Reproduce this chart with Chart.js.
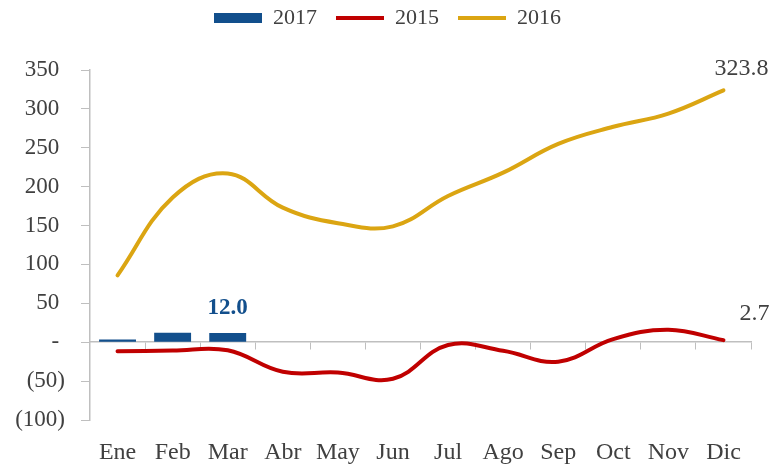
<!DOCTYPE html>
<html>
<head>
<meta charset="utf-8">
<script src="https://cdn.jsdelivr.net/npm/chart.js@4"></script>
<style>
  html, body { margin: 0; padding: 0; background: #fff; }
  #wrap { width: 775px; height: 469px; }
</style>
</head>
<body>
<div id="wrap"><canvas id="grafico"></canvas></div>
<script>
// Datos del gráfico
const meses = ['Ene', 'Feb', 'Mar', 'Abr', 'May', 'Jun', 'Jul', 'Ago', 'Sep', 'Oct', 'Nov', 'Dic'];
const datos2017 = [3.5, 12.1, 12.0];
const datos2015 = [-11.7, -10.8, -10.4, -38, -39, -47, -3.5, -11, -25, 4, 16, 2.7];
const datos2016 = [86, 186, 217, 173, 153, 149, 188, 218, 255, 277, 294, 323.8];
const ticksY = [-100, -50, 0, 50, 100, 150, 200, 250, 300, 350];

const AZUL = '#124f8c';
const ROJO = '#c00000';
const ORO = '#dba512';
const GRIS = '#bfbfbf';
const TEXTO = '#404040';
const FUENTE = "'Liberation Serif', 'DejaVu Serif', serif";

// 👉 Formato contable: (50), -, 350
function formatoY(v) {
  if (v === 0) return '- ';
  if (v < 0) return '(' + (-v) + ')';
  return v + ' ';
}

// 👉 Leyenda más alta para bajar el área del gráfico
const altoLeyenda = {
  id: 'altoLeyenda',
  beforeInit(chart) {
    const fitOriginal = chart.legend.fit;
    chart.legend.fit = function () {
      fitOriginal.call(this);
      this.height = 82;
    };
  }
};

// 👉 Etiquetas de valor (12.0, 2.7, 323.8)
const etiquetas = {
  id: 'etiquetas',
  afterDatasetsDraw(chart) {
    const ctx = chart.ctx;
    ctx.save();
    ctx.textAlign = 'center';
    ctx.textBaseline = 'middle';

    const barras = chart.getDatasetMeta(0).data;
    const iBar = datos2017.length - 1;
    ctx.font = 'bold 23px ' + FUENTE;
    ctx.fillStyle = AZUL;
    ctx.fillText(datos2017[iBar].toFixed(1), barras[iBar].x, barras[iBar].y - 25);

    ctx.font = '24px ' + FUENTE;
    ctx.fillStyle = TEXTO;
    const l15 = chart.getDatasetMeta(1).data;
    const p15 = l15[l15.length - 1];
    ctx.fillText(datos2015[datos2015.length - 1].toFixed(1), p15.x + 31, p15.y - 26);

    const l16 = chart.getDatasetMeta(2).data;
    const p16 = l16[l16.length - 1];
    ctx.fillText(datos2016[datos2016.length - 1].toFixed(1), p16.x + 18, p16.y - 22);
    ctx.restore();
  }
};

new Chart(document.getElementById('grafico'), {
  type: 'bar',
  data: {
    labels: meses,
    datasets: [
      {
        label: '2017',
        data: datos2017,
        backgroundColor: AZUL,
        barPercentage: 0.67,
        categoryPercentage: 1,
        pointStyle: 'rect',
        order: 3
      },
      {
        type: 'line',
        label: '2015',
        data: datos2015,
        borderColor: ROJO,
        backgroundColor: ROJO,
        borderWidth: 4,
        tension: 0.4,
        pointRadius: 0,
        pointStyle: 'line',
        borderCapStyle: 'round',
        order: 2
      },
      {
        type: 'line',
        label: '2016',
        data: datos2016,
        borderColor: ORO,
        backgroundColor: ORO,
        borderWidth: 4,
        tension: 0.4,
        pointRadius: 0,
        pointStyle: 'line',
        borderCapStyle: 'round',
        order: 1
      }
    ]
  },
  options: {
    responsive: true,
    maintainAspectRatio: false,
    animation: false,
    layout: { padding: { left: 12, right: 12, top: -12, bottom: 0 } },
    plugins: {
      legend: {
        display: true,
        position: 'top',
        labels: {
          usePointStyle: true,
          pointStyleWidth: 48,
          boxHeight: 10,
          padding: 19,
          color: TEXTO,
          font: { family: FUENTE, size: 22 },
          sort: (a, b) => a.datasetIndex - b.datasetIndex
        }
      },
      tooltip: { enabled: false }
    },
    scales: {
      x: {
        offset: true,
        grid: { display: false, offset: true },
        border: { display: false },
        ticks: { color: TEXTO, font: { family: FUENTE, size: 24 }, padding: 10 },
        afterFit: s => { s.height = 49; }
      },
      x0: {
        type: 'category',
        labels: meses,
        position: { y: 0 },
        offset: true,
        grid: { drawOnChartArea: false, offset: true, tickLength: 7, color: GRIS },
        border: { color: GRIS, width: 1.5 },
        ticks: { display: false }
      },
      y: {
        min: -100,
        max: 350,
        afterBuildTicks: s => { s.ticks = ticksY.map(v => ({ value: v })); },
        grid: { drawOnChartArea: false, tickLength: 9, color: GRIS },
        border: { color: GRIS, width: 1.5 },
        ticks: {
          color: TEXTO,
          font: { family: FUENTE, size: 23 },
          padding: 16,
          callback: v => formatoY(v)
        },
        afterFit: s => { s.width = 78; }
      },
      // eje vacío a la derecha para centrar la leyenda sobre todo el lienzo
      yDer: {
        position: 'right',
        display: true,
        grid: { display: false },
        border: { display: false },
        ticks: { display: false },
        afterFit: s => { s.width = 12; }
      }
    }
  },
  plugins: [altoLeyenda, etiquetas]
});
</script>
</body>
</html>
